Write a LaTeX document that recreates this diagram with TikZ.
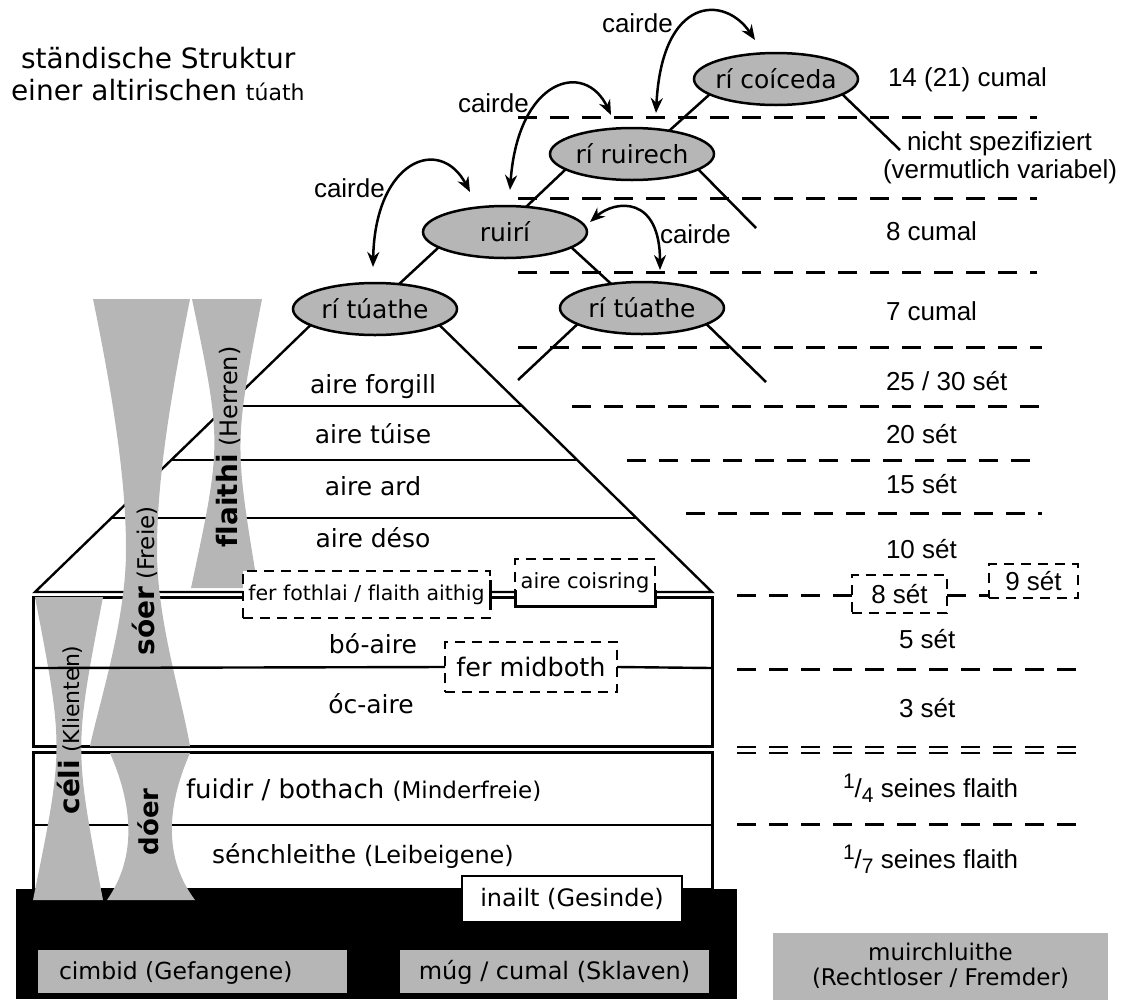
\documentclass[tikz,border=0pt]{standalone}
\usepackage{fontspec}
\setmainfont{DejaVu Sans}[Ligatures=NoCommon]
\newfontfamily\arialfont{Liberation Sans}[Ligatures=NoCommon]
\usetikzlibrary{arrows.meta,shapes.geometric}
\definecolor{shade}{RGB}{182,182,182}
\newcommand\fsz[1]{\fontsize{#1}{#1}\selectfont}

\begin{document}
\begin{tikzpicture}[x=1pt,y=-1pt,
  every node/.style={inner sep=0pt,outer sep=0pt},
  king/.style={ellipse,draw,fill=shade,line width=2.5pt,minimum width=164pt,minimum height=52pt,text height=18pt,text depth=0pt,font=\fsz{25}},
  tie/.style={line width=2.5pt},
  rank/.style={line width=2.4pt},
  wall/.style={line width=3pt},
  tier/.style={line width=3pt,dash pattern=on 19pt off 13pt},
  dbox/.style={draw,fill=white,line width=2.5pt,dash pattern=on 10pt off 7pt},
  plate/.style={fill=shade},
  lbl/.style={font=\fsz{25},anchor=base},
  price/.style={font=\arialfont\fsz{26},anchor=base west},
  bond/.style={line width=2.5pt,{Stealth[length=15pt,width=12pt]}-{Stealth[length=15pt,width=12pt]}},
  glass/.style={fill=shade},
]
\useasboundingbox (0,0) rectangle (1127,999);

% title
\node[font=\fsz{28},anchor=base west] (title1) at (21,68) {ständische Struktur};
\node[font=\fsz{28},anchor=base west] (title2) at (11,100) {einer altirischen {\fsz{22}túath}};

% black ground of the unfree
\fill[black] (16,889) rectangle (737,999);

% level separators on the right
\draw[tier] (518,117) -- (1037,117);
\draw[tier] (518,198) -- (1037,198);
\draw[tier] (518,272) -- (1037,272);
\draw[tier] (518,347) -- (1042,347);
\draw[tier] (572,406) -- (1042,406);
\draw[tier] (627,460) -- (1035,460);
\draw[tier] (686,513) -- (1042,513);
\draw[tier] (737,669) -- (1077,669);
\draw[tier,line width=2.2pt] (737,747) -- (1077,747);
\draw[tier,line width=2.2pt] (737,753) -- (1077,753);
\draw[tier] (737,824) -- (1077,824);

% kings
\node[king] (coic) at (776,79) {\makebox[0pt]{rí coíceda}};
\node[king] (ruirech) at (632,154) {\makebox[0pt]{rí ruirech}};
\node[king] (ruiri) at (505,232) {\makebox[0pt]{ruirí}};
\node[king] (tuathL) at (375,309) {\makebox[0pt]{rí túathe}};
\node[king] (tuathR) at (642,308) {\makebox[0pt]{rí túathe}};

\coordinate (endC) at (900,150);
\coordinate (endR) at (756,228);
\coordinate (endRL) at (518,380);
\coordinate (endRR) at (766,382);
\coordinate (cornerL) at (35,592);
\coordinate (cornerR) at (712,592);

\draw[tie] (ruirech.32) -- (coic.193);
\draw[tie] (coic.347) -- (endC);
\draw[tie] (ruiri.50) -- (ruirech.193);
\draw[tie] (ruirech.347) -- (endR);
\draw[tie] (tuathL.46) -- (ruiri.193);
\draw[tie] (ruiri.347) -- (tuathR.142);
\draw[tie] (tuathR.194) -- (endRL);
\draw[tie] (tuathR.346) -- (endRR);

% pyramid of the free
\draw[rank] (tuathL.194) -- (cornerL) -- (cornerR) -- (tuathL.346);
\draw[rank] (227,406) -- (522,406);
\draw[rank] (171,460) -- (577,460);
\draw[rank] (111,518) -- (636,518);
\draw[wall] (33,597) rectangle (712,746);
\draw[wall] (33,752) rectangle (712,889);
\draw[rank] (33,825) -- (712,825);

% cairde links
\coordinate (a1s) at (656,113); \coordinate (a1e) at (755,40);
\coordinate (a2s) at (510,190); \coordinate (a2e) at (611,115);
\coordinate (a3s) at (373,267); \coordinate (a3e) at (470,192);
\coordinate (a4s) at (590,222); \coordinate (a4e) at (660,270);
\draw[bond] (a1s) .. controls (662,-5) and (725,-5) .. (a1e);
\draw[bond] (a2s) .. controls (518,78) and (585,60) .. (a2e);
\draw[bond] (a3s) .. controls (375,160) and (440,135) .. (a3e);
\draw[bond] (a4s) .. controls (615,200) and (660,195) .. (a4e);
\node[price] (c1) at (602,32) {cairde};
\node[price] (c2) at (458,112) {cairde};
\node[price] (c3) at (314,197) {cairde};
\node[price] (c4) at (660,243) {cairde};

% groups (hourglass bands)
\fill[glass] (192,299) .. controls (222,443) .. (191,588) -- (258,588) .. controls (234,443) .. (262,299) -- cycle;
\fill[glass] (93,299) .. controls (120,430) and (126,500) .. (126,550) .. controls (126,620) and (100,700) .. (90,746) -- (190,746) .. controls (180,690) and (157,620) .. (157,550) .. controls (157,480) and (170,400) .. (190,299) -- cycle;
\fill[glass] (35,597) .. controls (64,748) .. (33,900) -- (103,900) .. controls (74,748) .. (103,597) -- cycle;
\fill[glass] (110,753) .. controls (135,810) and (135,860) .. (107,900) -- (195,900) .. controls (165,860) and (165,810) .. (190,753) -- cycle;

\node[rotate=90,anchor=base,font=\fsz{24}] (flaithi) at (237,447) {{\bfseries\fsz{28}flaithi} (Herren)};
\node[rotate=90,anchor=base,font=\fsz{23}] (soer) at (154,581) {{\bfseries\fsz{28}sóer} (Freie)};
\node[rotate=90,anchor=base,font=\fsz{22}] (celi) at (79,730) {{\bfseries\fsz{28}céli} (Klienten)};
\node[rotate=90,anchor=base,font=\fsz{26}] (doer) at (158,822) {\bfseries dóer};

% ranks of the free
\node[lbl] (forgill) at (373,393) {aire forgill};
\node[lbl] (tuise) at (373,443) {aire túise};
\node[lbl] (ard) at (373,495) {aire ard};
\node[lbl] (deso) at (373,547) {aire déso};
\node[lbl] (boaire) at (373,653) {bó-aire};
\node[lbl] (ocaire) at (371,713) {óc-aire};

\node[dbox,minimum width=247pt,minimum height=47pt,font=\fsz{20.5}] (fothlai) at (366.5,594.5) {fer fothlai / flaith aithig};
\draw[wall] (fothlai.east |- 0,580) -- (fothlai.east |- 0,610);
\node[dbox,minimum width=140pt,minimum height=47pt,font=\fsz{21}] (coisring) at (585,582.5) {aire coisring};
\draw[wall] (coisring.west |- 0,590) -- (coisring.south west) -- (coisring.south east) -- (coisring.east |- 0,590);

\node[dbox,minimum width=172pt,minimum height=50pt,font=\fsz{25.5}] (midboth) at (531,667) {fer midboth};
\draw[rank] (33,668) -- (midboth.west);
\draw[rank] (midboth.east) -- (712,668);

% the unfree
\node[anchor=base west,font=\fsz{26}] (fuidir) at (186,798) {fuidir / bothach {\fsz{23}(Minderfreie)}};
\node[anchor=base west,font=\fsz{25}] (senchleithe) at (212,863) {sénchleithe {\fsz{24}(Leibeigene)}};
\node[draw,fill=white,line width=2.5pt,minimum width=220pt,minimum height=46pt,font=\fsz{24}] (inailt) at (572,899) {inailt (Gesinde)};
\node[plate,minimum width=309pt,minimum height=43pt,font=\fsz{23.5},text height=18pt,text depth=3pt] (cimbid) at (192.5,971.5) {\makebox[309pt][l]{\hspace{21pt}cimbid (Gefangene)}};
\node[plate,minimum width=309pt,minimum height=43pt,font=\fsz{24},text height=18pt,text depth=3pt] (mug) at (554.5,971.5) {múg / cumal (Sklaven)};
\node[plate,minimum width=335pt,minimum height=67pt,align=center,font=\fontsize{23}{25}\selectfont] (muir) at (940.5,966) {muirchluithe\\(Rechtloser / Fremder)};

% honour prices
\node[price] (p1) at (888,86) {14 (21) cumal};
\node[price] (p2a) at (907,150) {nicht spezifiziert};
\node[price] (p2b) at (883,178) {(vermutlich variabel)};
\node[price] (p3) at (886,240) {8 cumal};
\node[price] (p4) at (886,320) {7 cumal};
\node[price] (p5) at (886,390) {25 / 30 sét};
\node[price] (p6) at (886,443) {20 sét};
\node[price] (p7) at (886,493) {15 sét};
\node[price] (p8) at (886,558) {10 sét};
\node[dbox,minimum width=95pt,minimum height=38pt,font=\arialfont\fsz{26}] (set8) at (899.5,594) {8 sét};
\node[dbox,minimum width=89pt,minimum height=34pt,font=\arialfont\fsz{26}] (set9) at (1033.5,581) {9 sét};
\draw[tier] (737,595) -- (set8.west |- 0,595);
\draw[tier] (set8.east |- 0,595) -- (set9.west |- 0,595);
\node[price] (p9) at (899,648) {5 sét};
\node[price] (p10) at (899,717) {3 sét};
\node[price] (p11) at (843,797) {\raisebox{9pt}{\fsz{21}1}/\raisebox{-5pt}{\fsz{21}4} seines flaith};
\node[price] (p12) at (843,868) {\raisebox{9pt}{\fsz{21}1}/\raisebox{-5pt}{\fsz{21}7} seines flaith};
\end{tikzpicture}
\end{document}
